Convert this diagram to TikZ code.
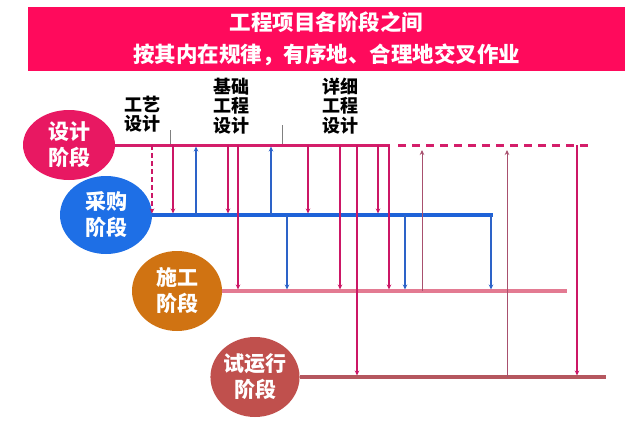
\documentclass[tikz,border=0pt]{standalone}
\usepackage{fontspec}
\setmainfont{Noto Sans CJK SC}
\usetikzlibrary{shapes.geometric,arrows.meta}
\definecolor{titlered}{HTML}{FF0A5C}
\definecolor{designc}{HTML}{E81862}
\definecolor{procc}{HTML}{1E6FE6}
\definecolor{consc}{HTML}{D07312}
\definecolor{testc}{HTML}{C0504D}
\definecolor{designln}{HTML}{D41E6A}
\definecolor{procln}{HTML}{1E62D8}
\definecolor{consln}{HTML}{E37A92}
\definecolor{testln}{HTML}{B5575F}
\definecolor{arrowpk}{HTML}{CC1766}
\definecolor{arrowbl}{HTML}{2D63C8}
\definecolor{thinmv}{HTML}{A8506E}
\begin{document}
\begin{tikzpicture}[x=1pt, y=-1pt, >={Stealth[length=5pt,width=4.5pt]},
    phase/.style={ellipse, inner sep=0pt, text=white, align=center,
        font=\fontsize{21}{26}\selectfont\bfseries},
    stage/.style={align=center, font=\fontsize{18}{19.5}\selectfont\bfseries},
    pk/.style={->, draw=arrowpk, line width=1.3pt, shorten >=1.5pt},
    bl/.style={->, draw=arrowbl, line width=1.3pt, shorten >=1.5pt},
    thinup/.style={->, draw=thinmv, line width=0.7pt, shorten >=5pt}]
    \useasboundingbox (0,0) rectangle (640,428);
    % title bar
    \node[fill=titlered, minimum width=597, minimum height=64, inner sep=0pt,
        text=white, align=center, font=\fontsize{21.5}{32}\selectfont\bfseries]
        (title) at (326.5,39) {工程项目各阶段之间\\按其内在规律，有序地、合理地交叉作业};
    % phases
    \node[phase, fill=designc, minimum width=92, minimum height=70] (sheji)    at (69,145)  {设计\\阶段};
    \node[phase, fill=procc,   minimum width=92, minimum height=78] (caigou)   at (106,215) {采购\\阶段};
    \node[phase, fill=consc,   minimum width=90, minimum height=80] (shigong)  at (177,291) {施工\\阶段};
    \node[phase, fill=testc,   minimum width=86, minimum height=80] (shiyun)   at (255,377) {试运行\\阶段};
    % sub-stages of design
    \node[stage] (gongyi)  at (142,114) {工艺\\设计};
    \node[stage] (jichu)   at (231,106) {基础\\工程\\设计};
    \node[stage] (xiangxi) at (340,106) {详细\\工程\\设计};
    \draw[gray, line width=0.7pt] (170,130) -- (170,0 |- sheji.east);
    \draw[gray, line width=0.7pt] (282,125) -- (282,0 |- sheji.east);
    % phase lines
    \draw[designln, line width=3pt] (sheji.east) -- (390,0 |- sheji.east) coordinate (dEnd);
    \draw[designln, line width=3pt, dash pattern=on 8pt off 6pt]
        (398,0 |- sheji.east) coordinate (dStart) -- (592,0 |- sheji.east) coordinate (dFar);
    \draw[procln, line width=4pt] (caigou.east) -- (493,0 |- caigou.east) coordinate (cEnd);
    \draw[consln, line width=3.5pt] (shigong.east) -- (567,0 |- shigong.east) coordinate (sEnd);
    \draw[testln, line width=4pt] (shiyun.east) -- (606,0 |- shiyun.east) coordinate (tEnd);
    % design -> procurement
    \draw[pk, dash pattern=on 5pt off 3pt] (152,0 |- sheji.east) -- (152,0 |- caigou.east);
    \foreach \x in {173,228,308,378}
        \draw[pk] (\x,0 |- sheji.east) -- (\x,0 |- caigou.east);
    % procurement -> design
    \foreach \x in {196,271}
        \draw[bl] (\x,0 |- caigou.east) -- (\x,0 |- sheji.east);
    % design -> construction
    \foreach \x in {238,340,389}
        \draw[pk] (\x,0 |- sheji.east) -- (\x,0 |- shigong.east);
    % design -> trial run
    \foreach \x in {357,577}
        \draw[pk] (\x,0 |- sheji.east) -- (\x,0 |- shiyun.east);
    % procurement -> construction
    \foreach \x in {287,405,491}
        \draw[bl] (\x,0 |- caigou.east) -- (\x,0 |- shigong.east);
    % feedback to design
    \draw[thinup] (422,0 |- shigong.east) -- (422,0 |- sheji.east);
    \draw[thinup] (507,0 |- shiyun.east) -- (507,0 |- sheji.east);
\end{tikzpicture}
\end{document}
